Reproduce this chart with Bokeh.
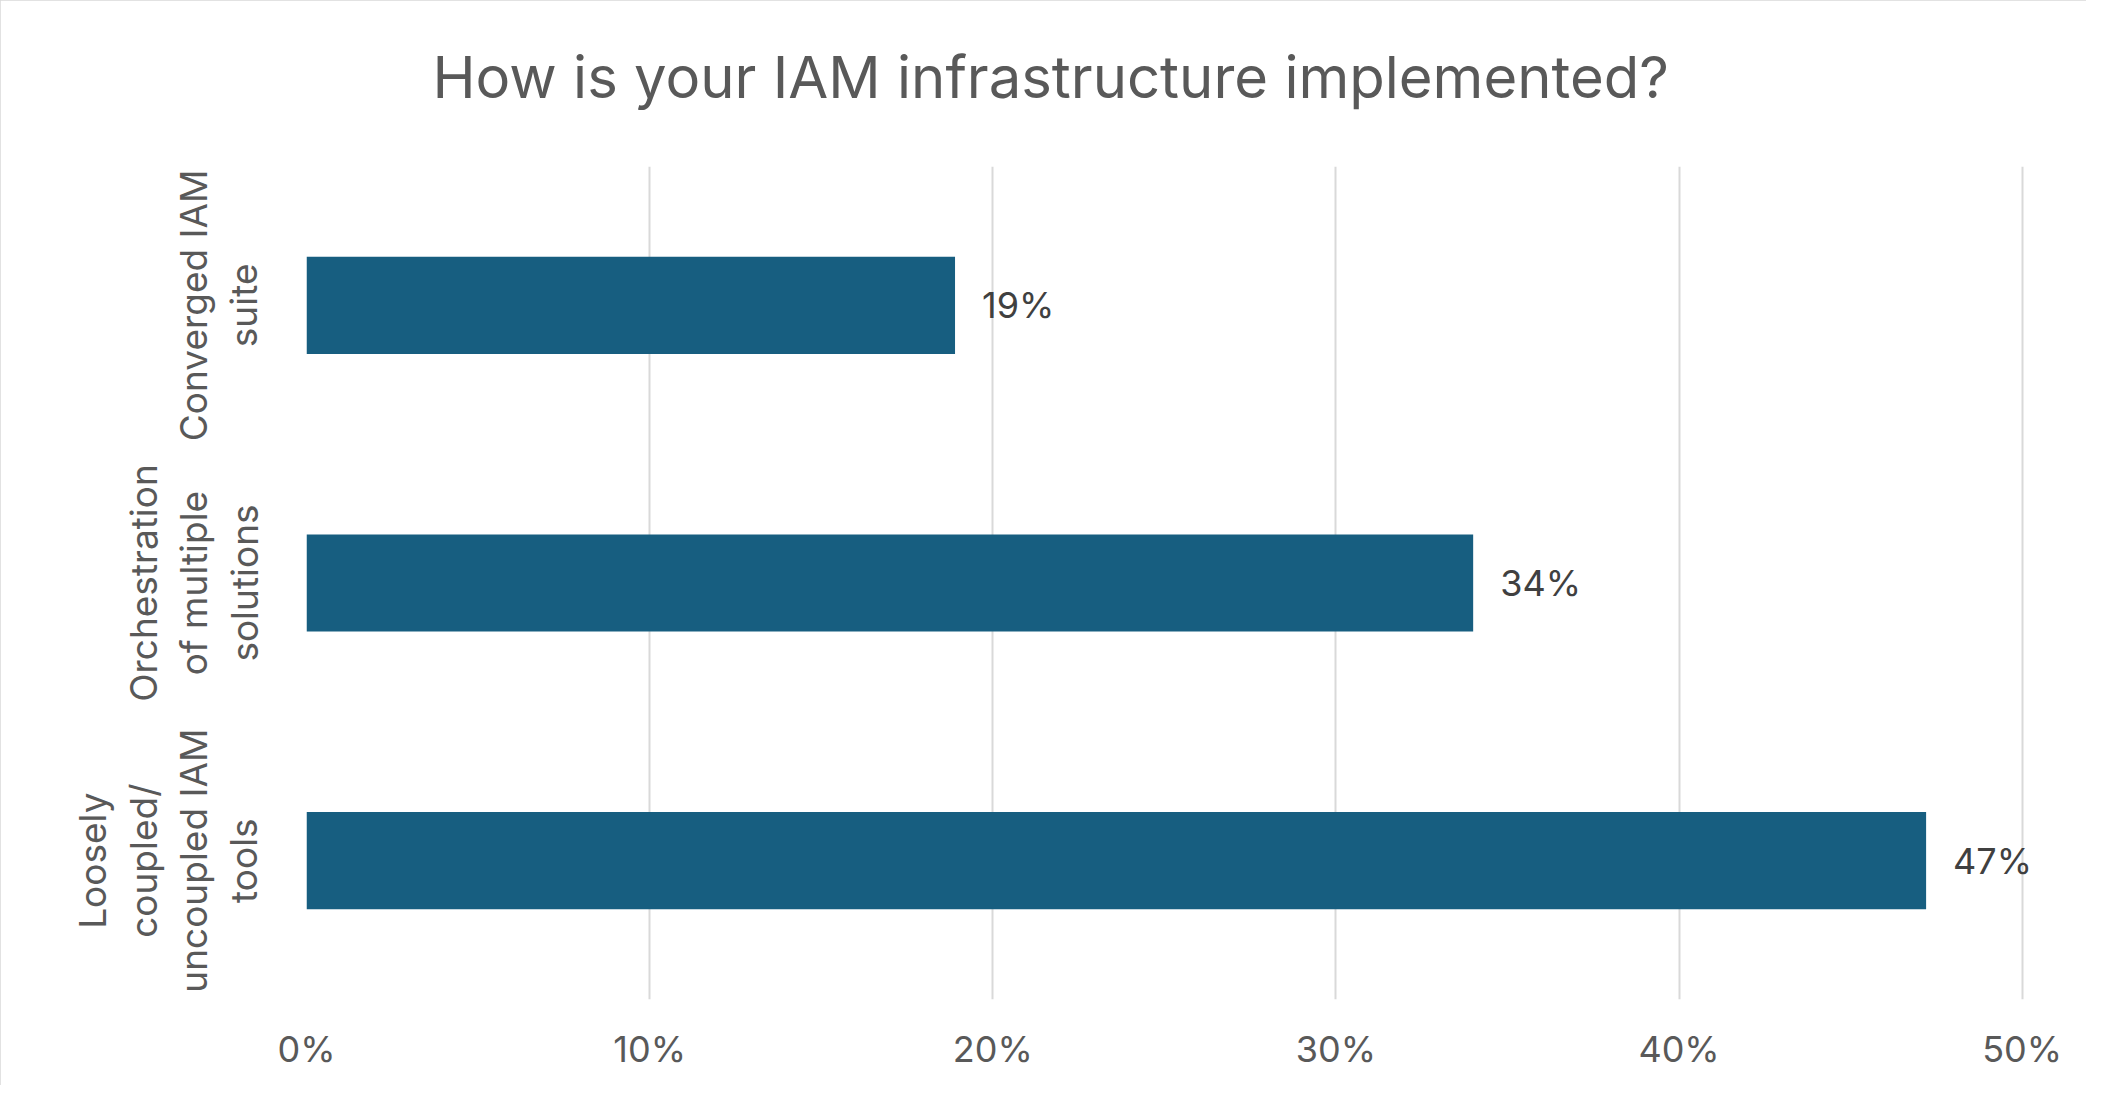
from bokeh.plotting import figure
from bokeh.models import ColumnDataSource, FactorRange, Range1d, FixedTicker, CustomJSTickFormatter, Title
from bokeh.core.properties import value
from bokeh.embed import file_html
from bokeh.resources import INLINE

# data (bottom to top)
categories = ["Loosely\ncoupled/\nuncoupled IAM\ntools",
              "Orchestration\nof multiple\nsolutions",
              "Converged IAM\nsuite"]
shares = [47.2, 34.0, 18.9]
share_labels = ["47%", "34%", "19%"]
x_ticks = [0, 10, 20, 30, 40, 50]
title_text = "How is your IAM infrastructure implemented?"

FONT = "Inter"
BAR = "#175E80"
GRID = "#D9D9D9"
GREY = "#595959"

src = ColumnDataSource(dict(cat=categories, v=shares, lab=share_labels))

W, H = 2086, 1085
p = figure(width=W, height=H, output_backend="svg", toolbar_location=None,
           y_range=FactorRange(*categories, range_padding=0),
           x_range=Range1d(0, 51),
           min_border_left=306, min_border_right=30, min_border_top=166, min_border_bottom=86)
p.styles = {"outline": "2px solid #D9D9D9", "outline-offset": "-2px"}
p.outline_line_color = None
p.background_fill_color = "white"
p.border_fill_color = "white"

# spacer between frame and title
p.add_layout(Title(text=" ", text_font_size="10px", standoff=2), "above")

p.title.text = title_text
p.title.align = "left"
p.title.offset = 126
p.title.text_font = FONT
p.title.text_font_size = "58px"
p.title.text_font_style = "normal"
p.title.text_color = GREY
p.title.vertical_align = "top"
p.title.standoff = 76

p.hbar(y="cat", right="v", left=0, height=0.35, source=src, color=BAR, line_color=None)
p.text(x="v", y="cat", text="lab", source=src, x_offset=27, text_align="left",
       text_baseline="middle", text_font=value(FONT), text_font_size="36px", text_color="#404040")

p.xgrid.grid_line_color = GRID
p.xgrid.grid_line_width = 2
p.ygrid.grid_line_color = None

p.xaxis.ticker = FixedTicker(ticks=x_ticks)
p.xaxis.formatter = CustomJSTickFormatter(code="return tick + '%'")
p.xaxis.axis_line_color = None
p.xaxis.major_tick_line_color = None
p.xaxis.minor_tick_line_color = None
p.xaxis.major_label_text_font = FONT
p.xaxis.major_label_text_font_size = "36px"
p.xaxis.major_label_text_color = GREY
p.xaxis.major_label_standoff = 21

p.yaxis.axis_line_color = None
p.yaxis.major_tick_line_color = None
p.yaxis.minor_tick_line_color = None
p.yaxis.major_label_orientation = "vertical"
p.yaxis.major_label_text_font = FONT
p.yaxis.major_label_text_font_size = "37px"
p.yaxis.major_label_text_color = GREY
p.yaxis.major_label_standoff = 34
p.yaxis.major_label_text_line_height = 1.12

open("out.html", "w").write(file_html(p, INLINE))
